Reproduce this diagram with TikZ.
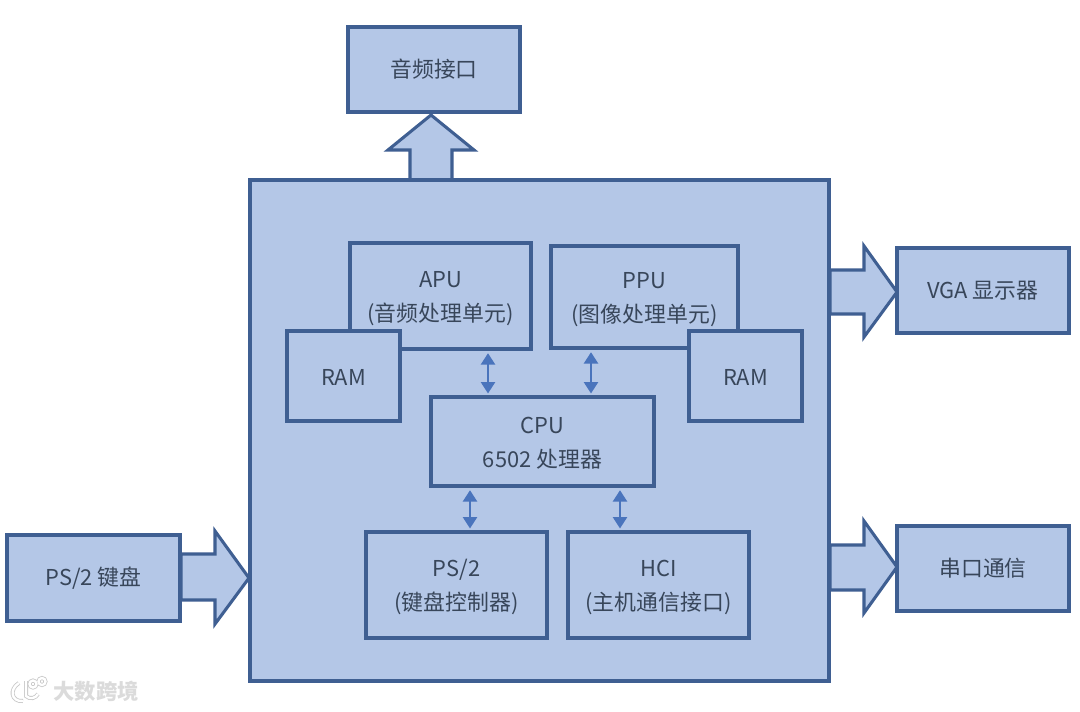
\documentclass[tikz,border=0pt]{standalone}
\usepackage{fontspec}
\setmainfont{Noto Sans CJK SC}
\usetikzlibrary{arrows.meta}
\definecolor{boxfill}{HTML}{B4C7E7}
\definecolor{boxline}{HTML}{3F5F92}
\definecolor{linkblue}{HTML}{4A74BC}
\definecolor{labeltext}{HTML}{38465A}
\tikzset{
  pic unit/.style={x=0.75pt,y=-0.75pt},
  blockbox/.style={draw=boxline,fill=boxfill,line width=2.3pt,inner sep=0pt,text=labeltext,
    align=center,font=\fontsize{16.4}{25.5}\selectfont},
  blockarrow/.style={draw=boxline,fill=boxfill,line width=2.3pt,line join=miter},
  dbl/.style={draw=linkblue,line width=1.6pt,{Triangle[width=10.5pt,length=8.5pt]}-{Triangle[width=10.5pt,length=8.5pt]},shorten <=2pt,shorten >=1.5pt},
  wm/.style={inner sep=0pt,font=\fontsize{16}{16}\selectfont\bfseries},
  wmring/.style={draw=white,line width=1.8pt,fill=none},
  wmshade/.style={draw=black!22,line width=3pt,fill=none}
}
\newcommand{\bx}[6][]{\node[blockbox,minimum width=#4*0.75pt,minimum height=#5*0.75pt,#1] (#2) at (#3) {#6};}
\newcommand{\lift}[1]{\rule{0pt}{#1pt}}
\begin{document}
\begin{tikzpicture}[pic unit]
\useasboundingbox[fill=white] (0,0) rectangle (1080,711);
% block arrows, drawn under the boxes
\coordinate (audiotip) at (431,115);
\coordinate (audiobase) at (431,181);
\draw[blockarrow] (audiotip) -- ++(43,35) -- ++(-22,0) -- (452,181) -- (410,181) -- (410,150) -- (388,150) -- cycle;
\coordinate (vgatip) at (897,292);
\draw[blockarrow] (vgatip) -- (864,337) -- (864,314) -- (830,314) -- (830,270) -- (864,270) -- (864,246) -- cycle;
\coordinate (serialtip) at (897,567);
\draw[blockarrow] (serialtip) -- (864,613) -- (864,590) -- (830,590) -- (830,545) -- (864,545) -- (864,521) -- cycle;
\coordinate (kbtip) at (249,578);
\draw[blockarrow] (kbtip) -- (215,624) -- (215,600) -- (181,600) -- (181,554) -- (215,554) -- (215,531) -- cycle;
% boxes
\bx{main}{539.5,430.5}{579}{501}{}
\bx{audio}{434,69.5}{172}{85}{音频接口}
\bx{apu}{440.5,296}{181}{106}{\lift{15.5}APU\\(音频处理单元)}
\bx{ppu}{644.5,297}{187}{102}{\lift{15.5}PPU\\(图像处理单元)}
\bx{ramL}{343.5,376}{113}{90}{\lift{14.5}RAM}
\bx{ramR}{745.5,376}{113}{90}{\lift{14.5}RAM}
\bx{cpu}{542.5,441.5}{223}{89}{\lift{15.5}CPU\\6502 处理器}
\bx{ps}{456.5,585}{181}{106}{\lift{15.5}PS/2\\(键盘控制器)}
\bx{hci}{658.5,585}{181}{106}{\lift{15.5}HCI\\(主机通信接口)}
\bx{vga}{983,290.5}{172}{85}{VGA 显示器}
\bx{serial}{983,568.5}{172}{85}{串口通信}
\bx{kb}{93.5,578}{173}{86}{PS/2 键盘}
% bus links
\coordinate (l1) at (488,370);
\coordinate (l2) at (591,370);
\coordinate (l3) at (470,510);
\coordinate (l4) at (620,510);
\draw[dbl] (apu.south -| l1) -- (cpu.north -| l1);
\draw[dbl] (ppu.south -| l2) -- (cpu.north -| l2);
\draw[dbl] (cpu.south -| l3) -- (ps.north -| l3);
\draw[dbl] (cpu.south -| l4) -- (hci.north -| l4);
% watermark
\node[wm,text=black!14] (wmtext) at (96,691) {大数跨境};
\foreach \st in {wmshade,wmring}{
  \draw[\st] (19,683) .. controls (9,689) and (11,702) .. (23,701);
  \draw[\st] (26,681) -- (26,696) .. controls (30,700) and (36,698) .. (38,694);
  \draw[\st] (33,684) circle[radius=3.5];
  \draw[\st] (42,681.5) circle[radius=3.5];
}
\end{tikzpicture}
\end{document}
